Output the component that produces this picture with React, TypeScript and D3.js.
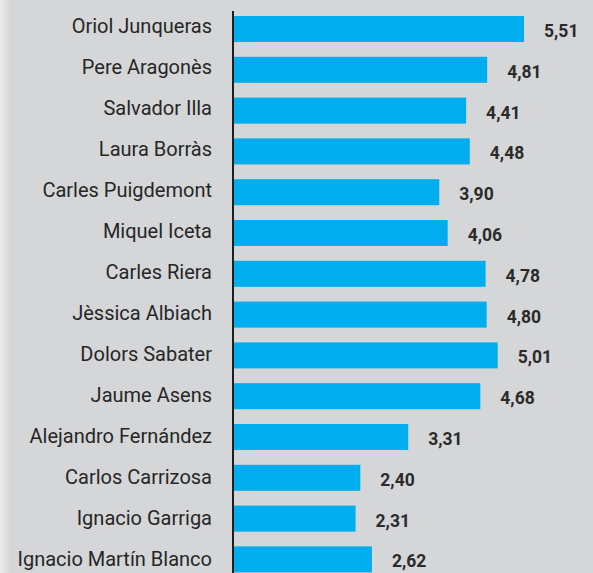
import React from "react";
import * as d3 from "d3";

const names = [
  "Oriol Junqueras",
  "Pere Aragonès",
  "Salvador Illa",
  "Laura Borràs",
  "Carles Puigdemont",
  "Miquel Iceta",
  "Carles Riera",
  "Jèssica Albiach",
  "Dolors Sabater",
  "Jaume Asens",
  "Alejandro Fernández",
  "Carlos Carrizosa",
  "Ignacio Garriga",
  "Ignacio Martín Blanco",
];
const scores = [5.51, 4.81, 4.41, 4.48, 3.9, 4.06, 4.78, 4.8, 5.01, 4.68, 3.31, 2.4, 2.31, 2.62];

const W = 593;
const H = 573;

export default function App() {
  const x = d3.scaleLinear().domain([0, 5.51]).range([234, 524]);
  const y = d3
    .scaleBand<string>()
    .domain(names)
    .range([16 - 7.4, 16 - 7.4 + 40.8 * 14])
    .paddingInner(14.8 / 40.8)
    .paddingOuter(7.4 / 40.8);
  const fmt = (v: number) => v.toFixed(2).replace(".", ",");
  return (
    <svg width={W} height={H} style={{ position: "absolute", left: 0, top: 0, display: "block" }}>
      <defs>
        <linearGradient id="edge" x1="0" x2="1" y1="0" y2="0">
          <stop offset="0" stopColor="#ececec" />
          <stop offset="1" stopColor="#d5d6d8" />
        </linearGradient>
      </defs>
      <rect x={0} y={0} width={W} height={H} fill="#d5d6d8" />
      <rect x={0} y={0} width={10} height={H} fill="url(#edge)" />
      {names.map((n, i) => {
        const yy = y(n)!;
        const bh = y.bandwidth();
        return (
          <g key={n}>
            <rect x={x(0)} y={yy} width={x(scores[i]) - x(0)} height={bh} fill="#00adee" />
            <text
              x={212}
              y={yy + bh / 2 + 4 + i * 0.2}
              textAnchor="end"
              fontFamily="Roboto, sans-serif"
              fontSize={20}
              fill="#262626"
            >
              {n}
            </text>
            <text
              x={x(scores[i]) + 20}
              y={yy + bh / 2 + 8}
              fontFamily="Roboto, sans-serif"
              fontWeight="bold"
              fontSize={17.5}
              fill="#2b2b2b"
            >
              {fmt(scores[i])}
            </text>
          </g>
        );
      })}
      <line x1={233} x2={233} y1={11} y2={H} stroke="#1e1e1e" strokeWidth={2} />
    </svg>
  );
}
